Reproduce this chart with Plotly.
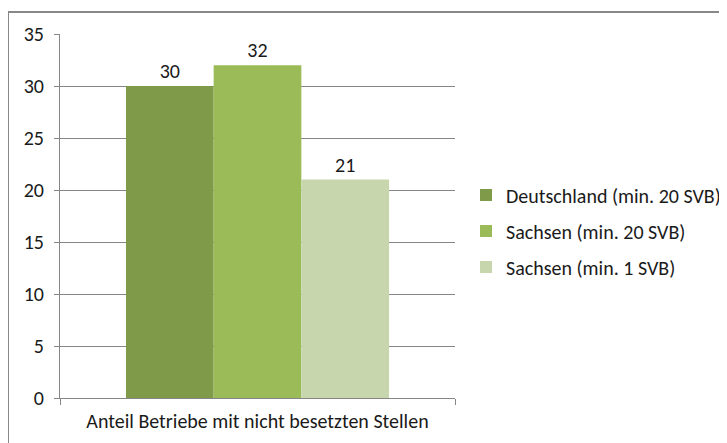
import plotly.graph_objects as go

categories = ["Anteil Betriebe mit nicht besetzten Stellen"]
series_names = ["Deutschland (min. 20 SVB)", "Sachsen (min. 20 SVB)", "Sachsen (min. 1 SVB)"]
series_values = [[30], [32], [21]]
colors = ["#7F9B49", "#9BBB59", "#C7D6AC"]
y_ticks = [0, 5, 10, 15, 20, 25, 30, 35]

FONT = "Carlito, Calibri, Lato, sans-serif"
TXT = "#1a1a1a"
FS = 20

# page has an 8px body margin; figure coords = page coords - 8
W, H = 719, 435
L, R, T, B = 52, 272, 26, 45
PW, PH = W - L - R, H - T - B

fig = go.Figure()
for i, (name, vals) in enumerate(zip(series_names, series_values)):
    fig.add_trace(go.Bar(
        x=categories, y=vals, name=name,
        marker=dict(color=colors[i], line=dict(width=0)),
        text=[str(v) for v in vals], textposition="outside",
        textfont=dict(size=FS, color=TXT, family=FONT),
        cliponaxis=False, legendgroup=f"g{i}",
    ))

fig.update_layout(
    width=W, height=H,
    margin=dict(l=L, r=R, t=T, b=B, pad=0, autoexpand=False),
    paper_bgcolor="white", plot_bgcolor="white",
    barmode="group", bargap=0.334, bargroupgap=0,
    font=dict(family=FONT, size=FS, color=TXT),
    showlegend=True,
    legend=dict(x=(458 - L) / PW, y=(H - B - 223) / PH, xanchor="left", yanchor="middle",
                traceorder="grouped", tracegroupgap=7,
                font=dict(size=FS, family=FONT, color=TXT),
                itemwidth=30, bgcolor="rgba(0,0,0,0)"),
    xaxis=dict(
        type="category", tickson="boundaries", ticks="outside", ticklen=6,
        tickcolor="#868686", showline=True, linecolor="#868686", linewidth=1,
        showgrid=False, tickfont=dict(size=FS, family=FONT, color=TXT),
        ticklabelstandoff=5,
    ),
    yaxis=dict(
        range=[0, 35], tickvals=y_ticks, ticks="outside", ticklen=5,
        tickcolor="#868686", showline=True, linecolor="#868686", linewidth=1,
        showgrid=True, gridcolor="#868686", gridwidth=1, zeroline=False,
        tickfont=dict(size=FS, family=FONT, color=TXT),
        ticklabelstandoff=6,
    ),
    shapes=[
        dict(type="line", xref="paper", yref="paper",
             x0=(0 - L) / PW, x1=(W - L) / PW, y0=(H - B - 4) / PH, y1=(H - B - 4) / PH,
             line=dict(color="#888888", width=2)),
        dict(type="line", xref="paper", yref="paper",
             x0=(0 - L) / PW, x1=(0 - L) / PW, y0=(H - B - 4) / PH, y1=-B / PH,
             line=dict(color="#888888", width=2)),
    ],
)

fig.write_html("out.html")
